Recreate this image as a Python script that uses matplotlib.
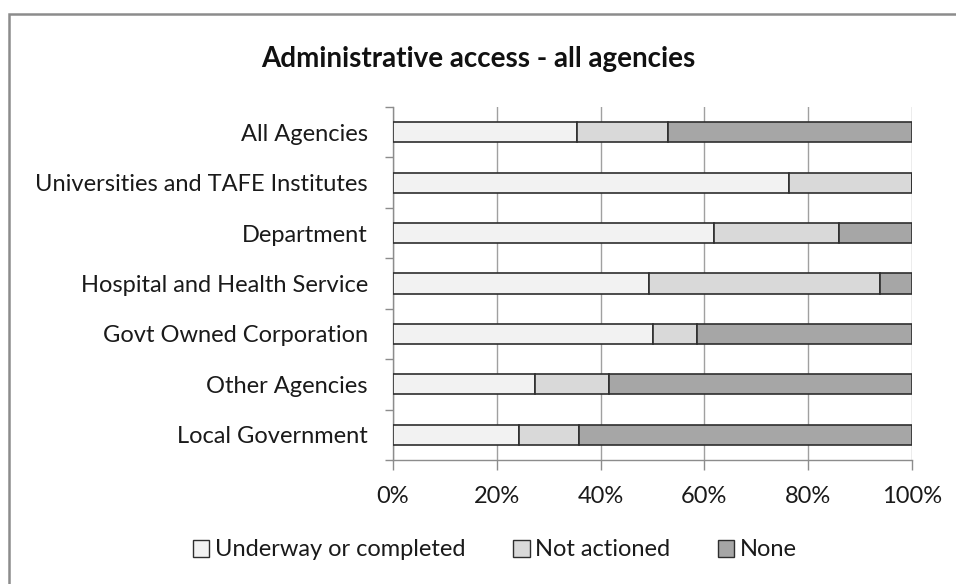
import matplotlib.pyplot as plt
import matplotlib.patches as mpatches
import numpy as np
from matplotlib.ticker import PercentFormatter

plt.rcParams['font.family'] = ['Lato', 'DejaVu Sans']

# Share of each agency group by status (percent)
agencies = ['All Agencies', 'Universities and TAFE Institutes', 'Department',
            'Hospital and Health Service', 'Govt Owned Corporation',
            'Other Agencies', 'Local Government']
underway = [35.4, 76.3, 61.9, 49.3, 50.0, 27.3, 24.3]
not_actioned = [17.6, 23.7, 24.0, 44.5, 8.5, 14.3, 11.6]
none = [47.0, 0.0, 14.1, 6.2, 41.5, 58.4, 64.1]

series_names = ['Underway or completed', 'Not actioned', 'None']
series_colors = ['#f2f2f2', '#d9d9d9', '#a6a6a6']
edge = '#2e2e2e'
text_col = '#1a1a1a'
axis_col = '#8c8c8c'

fig = plt.figure(figsize=(9.56, 5.84), dpi=100)
ax = fig.add_axes([393 / 956, 1 - 460 / 584, 519 / 956, 353 / 584])

y = np.arange(len(agencies))
left = np.zeros(len(agencies))
for vals, name, col in zip([underway, not_actioned, none], series_names, series_colors):
    vals = np.array(vals)
    ax.barh(y, vals, left=left, height=0.4, color=col, edgecolor=edge,
            linewidth=1.2, label=name, zorder=3)
    left += vals

ax.set_xlim(0, 100)
ax.set_ylim(len(agencies) - 0.5, -0.5)
ax.xaxis.set_major_formatter(PercentFormatter(decimals=0))
ax.set_xticks(np.arange(0, 101, 20))
ax.grid(axis='x', color='#a0a0a0', linewidth=1.0, zorder=0)
ax.tick_params(axis='x', length=7, width=1.0, color=axis_col,
               labelsize=17, pad=12, labelcolor=text_col)

# category labels in the middle, tick marks on the boundaries
ax.set_yticks(y)
ax.set_yticklabels(agencies, fontsize=17, color=text_col)
ax.tick_params(axis='y', which='major', length=0, pad=18)
ax.set_yticks(np.arange(-0.5, len(agencies)), minor=True)
ax.tick_params(axis='y', which='minor', length=6, width=1.0, color=axis_col)

for side in ['top', 'right']:
    ax.spines[side].set_visible(False)
for side in ['left', 'bottom']:
    ax.spines[side].set_color(axis_col)
    ax.spines[side].set_linewidth(1.0)

fig.text(478 / 956, 1 - 59 / 584, 'Administrative access - all agencies',
         ha='center', va='center', fontsize=20, fontweight='bold', color='#111111')

handles = [mpatches.Patch(facecolor=c, edgecolor=edge, linewidth=1.0, label=n)
           for n, c in zip(series_names, series_colors)]
fig.legend(handles=handles, loc='center', bbox_to_anchor=(495 / 956, 1 - 550 / 584),
           ncol=3, frameon=False, fontsize=17, handlelength=0.7, handleheight=0.7,
           handletextpad=0.25, columnspacing=2.0, labelcolor=text_col)

# outer chart border
fig.patches.append(mpatches.Rectangle((9 / 956, -0.02), 1.05, 1 - 14 / 584 + 0.02,
                                      transform=fig.transFigure, fill=False,
                                      edgecolor=axis_col, linewidth=1.8))

fig.savefig('out.png', dpi=100, facecolor='white')
